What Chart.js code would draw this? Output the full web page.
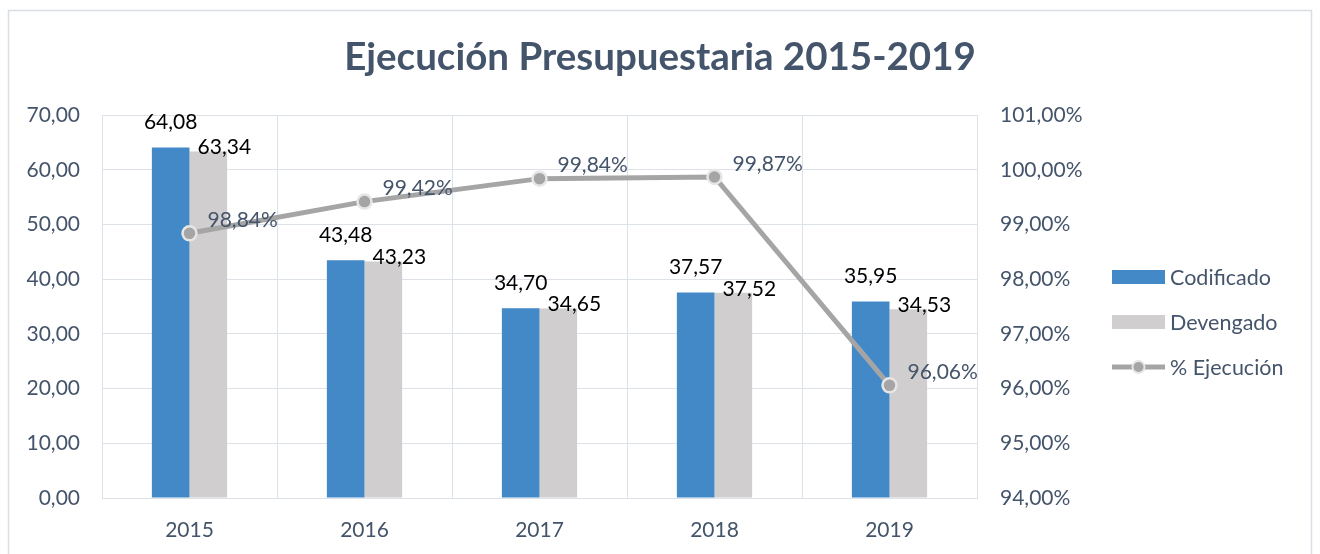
<!DOCTYPE html>
<html lang="es">
<head>
    <meta charset="UTF-8">
    <title>Ejecución Presupuestaria 2015-2019</title>
    <script src="https://cdn.jsdelivr.net/npm/chart.js"></script>
    <style>
        body { margin: 0; background: #ffffff; }
        #wrap { width: 1320px; height: 554px; }
    </style>
</head>
<body>
    <div id="wrap">
        <canvas id="budgetChart" width="1320" height="554"></canvas>
    </div>

    <script>
        // datos
        const years = ['2015', '2016', '2017', '2018', '2019'];
        const codificado = [64.08, 43.48, 34.70, 37.57, 35.95];
        const devengado = [63.34, 43.23, 34.65, 37.52, 34.53];
        const ejecucion = [98.84, 99.42, 99.84, 99.87, 96.06];

        const textColor = '#44546A';
        const gridColor = '#DDE2E9';
        const fontFamily = 'Lato, "Open Sans", sans-serif';

        function fmt(v) {
            return v.toFixed(2).replace('.', ',');
        }

        // etiquetas de datos y leyenda dibujadas a mano
        const labelsPlugin = {
            id: 'labelsPlugin',
            beforeDraw(chart) {
                const ctx = chart.ctx;
                ctx.save();
                ctx.strokeStyle = '#D9DEE5';
                ctx.lineWidth = 1.5;
                ctx.strokeRect(8.5, 10.5, 1303, 600);
                ctx.restore();
            },
            afterDatasetsDraw(chart) {
                const ctx = chart.ctx;
                ctx.save();
                ctx.font = '21px ' + fontFamily;
                ctx.textBaseline = 'middle';

                // barras
                chart.getDatasetMeta(0).data.forEach((bar, i) => {
                    ctx.fillStyle = '#000000';
                    ctx.textAlign = 'center';
                    ctx.fillText(fmt(codificado[i]), bar.x, bar.y - 25);
                });
                chart.getDatasetMeta(1).data.forEach((bar, i) => {
                    ctx.fillStyle = '#000000';
                    ctx.textAlign = 'center';
                    ctx.fillText(fmt(devengado[i]), bar.x + 16, bar.y - 4);
                });

                // línea
                chart.getDatasetMeta(2).data.forEach((pt, i) => {
                    ctx.fillStyle = textColor;
                    ctx.textAlign = 'left';
                    ctx.fillText(fmt(ejecucion[i]) + '%', pt.x + 18, pt.y - 13);
                });
                ctx.restore();
            },
            afterDraw(chart) {
                const ctx = chart.ctx;
                const area = chart.chartArea;
                const x0 = area.right + 135;
                const yMid = 322;
                const items = chart.data.datasets;
                ctx.save();
                ctx.font = '21.5px ' + fontFamily;
                ctx.textBaseline = 'middle';
                ctx.textAlign = 'left';
                // orden: Codificado, Devengado, % Ejecución
                const order = [0, 1, 2];
                order.forEach((idx, k) => {
                    const ds = items[idx];
                    const y = yMid + (k - 1) * 45;
                    if (ds.type === 'line') {
                        ctx.strokeStyle = ds.borderColor;
                        ctx.lineWidth = 5;
                        ctx.beginPath();
                        ctx.moveTo(x0, y);
                        ctx.lineTo(x0 + 53, y);
                        ctx.stroke();
                        ctx.beginPath();
                        ctx.arc(x0 + 26.5, y, 6, 0, Math.PI * 2);
                        ctx.fillStyle = '#A5A5A5';
                        ctx.fill();
                        ctx.strokeStyle = '#E6E6E6';
                        ctx.lineWidth = 2;
                        ctx.stroke();
                    } else {
                        ctx.fillStyle = ds.backgroundColor;
                        ctx.fillRect(x0, y - 7, 53, 14);
                    }
                    ctx.fillStyle = textColor;
                    ctx.fillText(ds.label, x0 + 58, y + 1);
                });
                ctx.restore();
            }
        };

        const ctx = document.getElementById('budgetChart').getContext('2d');
        const chart = new Chart(ctx, {
            type: 'bar',
            data: {
                labels: years,
                datasets: [
                    {
                        label: 'Codificado',
                        data: codificado,
                        backgroundColor: '#4389C8',
                        yAxisID: 'y',
                        order: 1,
                        categoryPercentage: 0.43,
                        barPercentage: 1.0
                    },
                    {
                        label: 'Devengado',
                        data: devengado,
                        backgroundColor: '#D0CECE',
                        yAxisID: 'y',
                        order: 1,
                        categoryPercentage: 0.43,
                        barPercentage: 1.0
                    },
                    {
                        type: 'line',
                        label: '% Ejecución',
                        data: ejecucion,
                        borderColor: '#A5A5A5',
                        borderWidth: 5,
                        pointRadius: 7,
                        pointHoverRadius: 7,
                        pointBackgroundColor: '#A5A5A5',
                        pointBorderColor: '#E6E6E6',
                        pointBorderWidth: 2.5,
                        tension: 0,
                        yAxisID: 'y1',
                        order: 0
                    }
                ]
            },
            options: {
                responsive: false,
                animation: false,
                layout: {
                    padding: { top: 10, left: 0, right: 0, bottom: 0 }
                },
                plugins: {
                    legend: { display: false },
                    tooltip: { enabled: false },
                    title: {
                        display: true,
                        text: 'Ejecución Presupuestaria 2015-2019',
                        color: textColor,
                        font: { family: fontFamily, size: 38.5, weight: 'bold', lineHeight: 1.2 },
                        padding: { top: 24, bottom: 35 }
                    }
                },
                scales: {
                    x: {
                        grid: { color: gridColor, drawTicks: false },
                        border: { color: gridColor },
                        ticks: {
                            color: textColor,
                            padding: 20,
                            font: { family: fontFamily, size: 21 }
                        },
                        afterFit(scale) { scale.height = 56; }
                    },
                    y: {
                        position: 'left',
                        min: 0,
                        max: 70,
                        ticks: {
                            stepSize: 10,
                            color: textColor,
                            padding: 22,
                            font: { family: fontFamily, size: 21 },
                            callback: v => fmt(v)
                        },
                        grid: { color: gridColor, drawTicks: false },
                        border: { color: gridColor },
                        afterFit(scale) { scale.width = 102; }
                    },
                    y1: {
                        position: 'right',
                        min: 94,
                        max: 101,
                        ticks: {
                            stepSize: 1,
                            color: textColor,
                            padding: 23,
                            font: { family: fontFamily, size: 21 },
                            callback: v => fmt(v) + '%'
                        },
                        grid: { drawOnChartArea: false, drawTicks: false },
                        border: { color: gridColor },
                        afterFit(scale) { scale.width = 343; }
                    }
                }
            },
            plugins: [labelsPlugin]
        });
    </script>
</body>
</html>
